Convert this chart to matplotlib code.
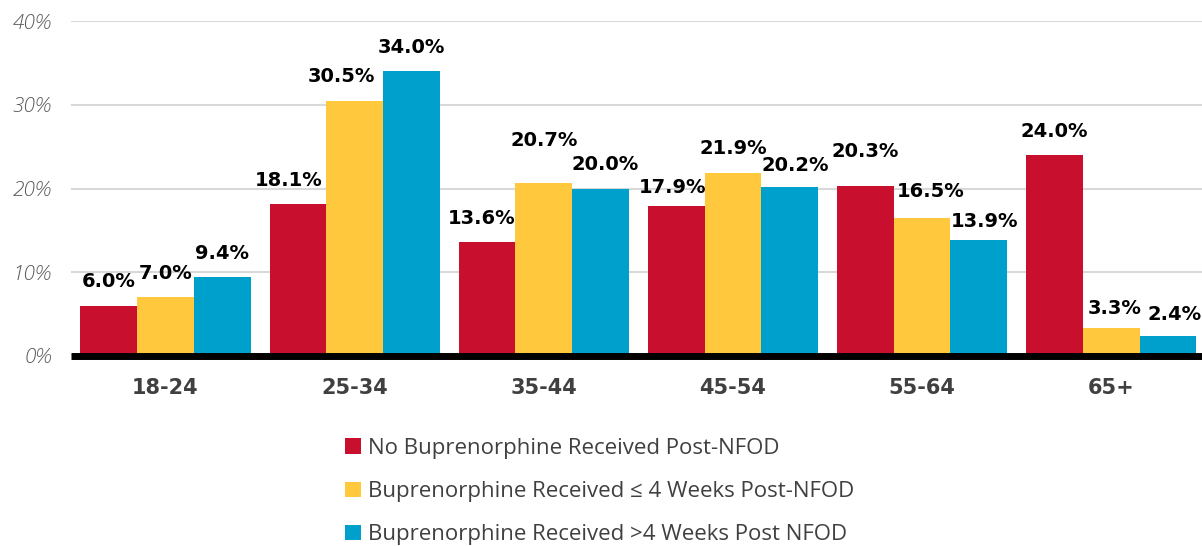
import numpy as np
import matplotlib.pyplot as plt
from matplotlib.patches import Patch

# Age groups and share of each cohort (%)
age_groups = ['18-24', '25-34', '35-44', '45-54', '55-64', '65+']
no_bup = [6.0, 18.1, 13.6, 17.9, 20.3, 24.0]
bup_le4 = [7.0, 30.5, 20.7, 21.9, 16.5, 3.3]
bup_gt4 = [9.4, 34.0, 20.0, 20.2, 13.9, 2.4]

series_names = ['No Buprenorphine Received Post-NFOD',
                'Buprenorphine Received \u2264 4 Weeks Post-NFOD',
                'Buprenorphine Received >4 Weeks Post NFOD']
colors = ['#C8102E', '#FFC83D', '#00A0CC']

# hand nudges for crowded value labels, (series, group): (dx, dy) in pixels
nudges = {(1, 1): (-13, 0), (0, 1): (-9, 0), (0, 2): (-5, 0),
          (1, 2): (0, 18), (2, 2): (5, 0), (0, 3): (-4, -5),
          (2, 3): (6, -3), (0, 4): (0, 10), (1, 4): (9, 2),
          (2, 4): (6, -6), (1, 5): (3, -4), (2, 5): (7, -3)}

fig = plt.figure(figsize=(12.02, 5.46), dpi=100)
ax = fig.add_axes([0.059, 0.348, 0.941, 0.6135])

px = 72 / 100  # pixels -> points
x = np.arange(len(age_groups))
w = 0.30
for i, (vals, col) in enumerate(zip([no_bup, bup_le4, bup_gt4], colors)):
    pos = x + (i - 1) * w
    bars = ax.bar(pos, vals, width=w, color=col, zorder=3)
    for j, (b, v) in enumerate(zip(bars, vals)):
        dx, dy = nudges.get((i, j), (0, 0))
        ax.annotate(f'{v:.1f}%', (b.get_x() + b.get_width() / 2, v),
                    xytext=(dx * px, (24 + dy) * px), textcoords='offset points',
                    ha='center', va='center', fontsize=14, fontweight='bold',
                    family='DejaVu Sans', color='black')

ax.set_xlim(-0.5, 5.48)
ax.set_ylim(0, 40)
ax.set_yticks([0, 10, 20, 30, 40])
ax.set_yticklabels([f'{t}%' for t in [0, 10, 20, 30, 40]],
                   fontsize=15, fontstyle='italic', fontweight='light',
                   color='#595959', family='Open Sans')
ax.set_xticks(x)
ax.set_xticklabels(age_groups, fontsize=15, fontweight='bold',
                   color='#404040', family='DejaVu Sans')
ax.tick_params(axis='both', length=0)
ax.tick_params(axis='x', pad=16)
ax.tick_params(axis='y', pad=14)

ax.grid(axis='y', color='#d9d9d9', linewidth=1.5, zorder=0)
for s in ['top', 'right', 'left']:
    ax.spines[s].set_visible(False)
ax.spines['bottom'].set_linewidth(5)
ax.spines['bottom'].set_color('black')
ax.spines['bottom'].set_capstyle('butt')
ax.spines['bottom'].set_zorder(4)

handles = [Patch(facecolor=c, edgecolor='none') for c in colors]
leg = fig.legend(handles, series_names, loc='upper left',
                 bbox_to_anchor=(0.280, 0.214), frameon=False,
                 prop={'family': 'Open Sans', 'size': 16},
                 handlelength=0.7, handleheight=0.7, handletextpad=0.3,
                 labelspacing=1.0, borderaxespad=0)
for t in leg.get_texts():
    t.set_color('#404040')

fig.savefig('out.png', dpi=100)
